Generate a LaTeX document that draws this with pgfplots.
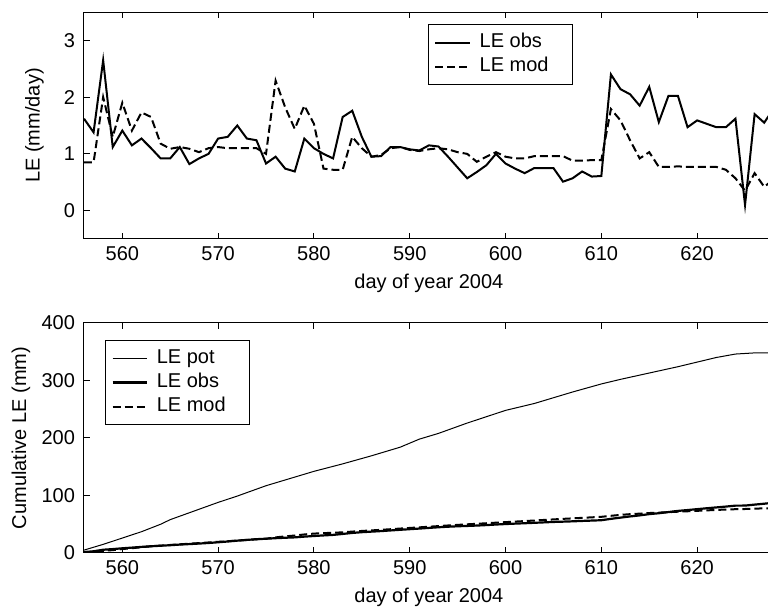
\documentclass[border=0pt]{standalone}
\usepackage{pgfplots}
\usepackage{pgfplotstable}
\usepackage{fontspec}
\setmainfont{Liberation Sans}
\pgfplotsset{compat=1.18}
\pgfplotsset{/pgf/number format/assume math mode=true}

\pgfplotstableread{
day obs mod cobs cmod
556 1.62 0.85 1.62 0.85
557 1.38 0.85 3.00 1.70
558 2.65 2.00 5.65 3.70
559 1.12 1.30 6.77 5.00
560 1.41 1.90 8.18 6.90
561 1.15 1.41 9.33 8.31
562 1.27 1.73 10.60 10.04
563 1.10 1.65 11.70 11.69
564 0.92 1.18 12.62 12.87
565 0.92 1.09 13.54 13.96
566 1.12 1.12 14.66 15.08
567 0.82 1.09 15.48 16.17
568 0.92 1.03 16.40 17.20
569 1.00 1.10 17.40 18.30
570 1.27 1.12 18.67 19.42
571 1.30 1.10 19.97 20.52
572 1.50 1.10 21.47 21.62
573 1.27 1.10 22.74 22.72
574 1.24 1.10 23.98 23.82
575 0.83 1.00 24.81 24.82
576 0.95 2.29 25.76 27.11
577 0.74 1.82 26.50 28.93
578 0.69 1.44 27.19 30.37
579 1.27 1.85 28.46 32.22
580 1.10 1.53 29.56 33.75
581 1.00 0.74 30.56 34.49
582 0.92 0.72 31.48 35.21
583 1.65 0.72 33.13 35.93
584 1.76 1.30 34.89 37.23
585 1.30 1.10 36.19 38.33
586 0.95 0.95 37.14 39.28
587 0.96 0.98 38.10 40.26
588 1.12 1.10 39.22 41.36
589 1.12 1.12 40.34 42.48
590 1.08 1.07 41.42 43.55
591 1.06 1.05 42.48 44.60
592 1.15 1.08 43.63 45.68
593 1.13 1.10 44.76 46.78
594 0.95 1.08 45.71 47.86
595 0.76 1.03 46.47 48.89
596 0.57 1.00 47.04 49.89
597 0.68 0.86 47.72 50.75
598 0.80 0.95 48.52 51.70
599 1.00 1.03 49.52 52.73
600 0.83 0.95 50.35 53.68
601 0.74 0.92 51.09 54.60
602 0.66 0.92 51.75 55.52
603 0.75 0.96 52.50 56.48
604 0.75 0.96 53.25 57.44
605 0.75 0.96 54.00 58.40
606 0.51 0.96 54.51 59.36
607 0.57 0.88 55.08 60.24
608 0.69 0.88 55.77 61.12
609 0.60 0.89 56.37 62.01
610 0.61 0.89 56.98 62.90
611 2.40 1.79 59.38 64.69
612 2.14 1.59 61.52 66.28
613 2.05 1.24 63.57 67.52
614 1.85 0.92 65.42 68.44
615 2.18 1.03 67.60 69.47
616 1.56 0.77 69.16 70.24
617 2.02 0.77 71.18 71.01
618 2.02 0.78 73.20 71.79
619 1.47 0.77 74.67 72.56
620 1.59 0.77 76.26 73.33
621 1.53 0.77 77.79 74.10
622 1.47 0.77 79.26 74.87
623 1.47 0.72 80.73 75.59
624 1.62 0.57 82.35 76.16
625 0.10 0.35 82.45 76.51
626 1.70 0.66 84.15 77.17
627 1.55 0.42 85.70 77.59
628 1.80 0.55 87.50 78.14
}\daily

\pgfplotstableread{
day pot
556 5
558 15
560 26
562 37
564 50
565 58
567 70
570 88
572 99
575 117
578 132
580 142
583 155
586 169
589 184
591 198
593 208
596 226
600 248
603 260
607 280
610 294
612 302
615 313
618 324
620 332
622 340
624 346
626 348
628 348
}\pot

\newcommand{\lentry}[1]{\makebox[44pt][l]{\hspace{2.5pt}#1}}

\pgfplotsset{
  myaxis/.style={
    scale only axis,
    width=344.9pt,
    xmin=556, xmax=628,
    xtick={560,570,...,620},
    tick align=inside,
    major tick length=3pt,
    axis line style={line width=0.5pt},
    every tick/.style={black, line width=0.5pt},
    xlabel={day of year 2004},
    xlabel style={at={(axis description cs:0.5,0)}, anchor=center, yshift=-22pt},
    yticklabel style={xshift=-1pt},
    legend cell align=left,
  }
}

\begin{document}
\begin{tikzpicture}
\path[use as bounding box] (0,0) rectangle (384pt,305pt);

\begin{axis}[myaxis,
  at={(42pt,185.5pt)}, anchor=south west,
  height=113.5pt,
  ymin=-0.5, ymax=3.5,
  ytick={0,1,2,3},
  ylabel={LE (mm/day)},
  ylabel style={at={(axis description cs:0,0.5)}, anchor=center, yshift=24.75pt},
  legend style={at={(0.4987,0.947)}, anchor=north west, draw=black, line width=0.5pt,
    inner sep=3pt, nodes={inner ysep=1.5pt, text height=7.2pt, text depth=1.8pt}},
]
\addplot[black, line width=1pt] table[x=day, y=obs] {\daily};
\addlegendentry{\lentry{LE obs}}
\addplot[black, line width=1pt, dash pattern=on 4pt off 2pt] table[x=day, y=mod] {\daily};
\addlegendentry{\lentry{LE mod}}
\end{axis}

\begin{axis}[myaxis,
  at={(42pt,28.5pt)}, anchor=south west,
  height=115pt,
  ymin=0, ymax=400,
  ytick={0,100,200,300,400},
  ylabel={Cumulative LE (mm)},
  ylabel style={at={(axis description cs:0,0.5)}, anchor=center, yshift=31.5pt},
  legend style={at={(0.0304,0.926)}, anchor=north west, draw=black, line width=0.5pt,
    inner sep=3pt, nodes={inner ysep=1.5pt, text height=7.2pt, text depth=1.8pt}},
]
\addplot[black, line width=0.5pt] table[x=day, y=pot] {\pot};
\addlegendentry{\lentry{LE pot}}
\addplot[black, line width=1.1pt] table[x=day, y=cobs] {\daily};
\addlegendentry{\lentry{LE obs}}
\addplot[black, line width=1pt, dash pattern=on 4pt off 2pt] table[x=day, y=cmod] {\daily};
\addlegendentry{\lentry{LE mod}}
\end{axis}
\end{tikzpicture}
\end{document}
